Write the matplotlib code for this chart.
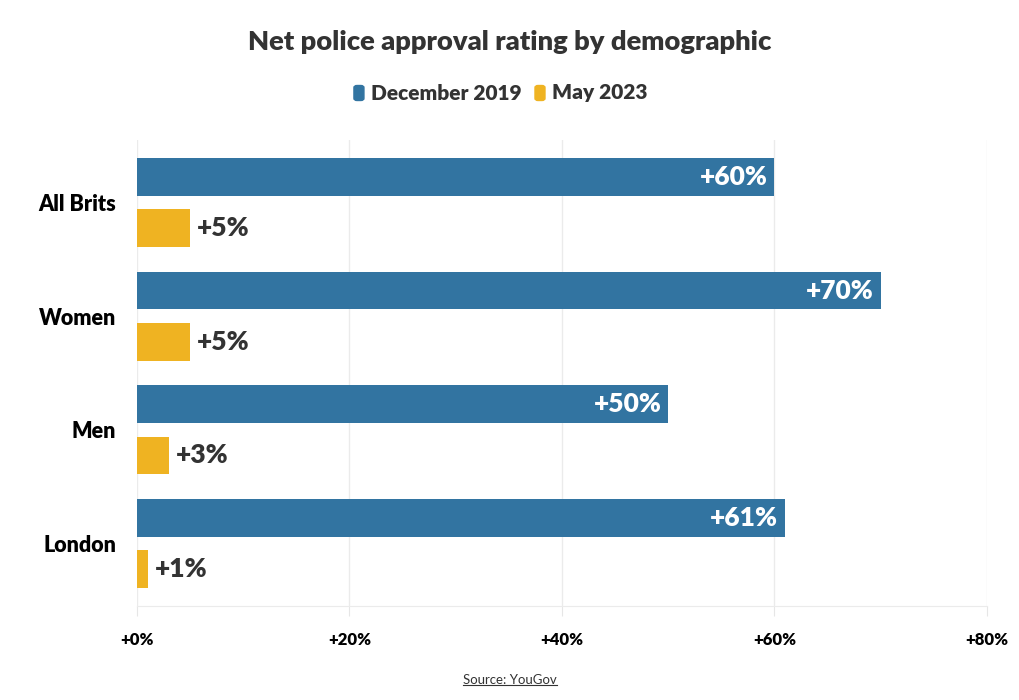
import matplotlib.pyplot as plt
import numpy as np
from matplotlib.patches import FancyBboxPatch

# data
groups = ["All Brits", "Women", "Men", "London"]
dec_2019 = [60, 70, 50, 61]
may_2023 = [5, 5, 3, 1]
x_ticks = [0, 20, 40, 60, 80]

blue = "#3274a1"
yellow = "#efb322"
dark = "#333333"

plt.rcParams["font.family"] = ["Lato", "DejaVu Sans"]
plt.rcParams["font.weight"] = "bold"

fig = plt.figure(figsize=(10.2, 7), dpi=100)
ax = fig.add_axes([0.1343, 0.1343, 0.8333, 0.6657])

y = np.arange(len(groups))
off = 0.224
h = 0.333
ax.barh(y - off, dec_2019, height=h, color=blue, zorder=3)
ax.barh(y + off, may_2023, height=h, color=yellow, zorder=3)

for yi, v in zip(y, dec_2019):
    ax.annotate(f"+{v}%", (v, yi - off), xytext=(-5, 0), textcoords="offset points",
                ha="right", va="center", color="white", fontsize=19, fontweight="heavy", zorder=4)
for yi, v in zip(y, may_2023):
    ax.annotate(f"+{v}%", (v, yi + off), xytext=(5, 0), textcoords="offset points",
                ha="left", va="center", color=dark, fontsize=19, fontweight="heavy", zorder=4)

ax.set_xlim(0, 80)
ax.set_ylim(3.545, -0.545)
ax.set_xticks(x_ticks)
ax.set_xticklabels([f"+{t}%" for t in x_ticks], fontsize=12, fontweight="heavy", color="black")
ax.set_yticks(y)
ax.set_yticklabels(groups, fontsize=15.5, fontweight="heavy", color="black")
ax.tick_params(axis="y", length=0, pad=15)
ax.tick_params(axis="x", length=7, color="#e6e6e6", pad=12)
ax.grid(axis="x", color="#ebebeb", linewidth=1, zorder=0)
for s in ["top", "right", "left"]:
    ax.spines[s].set_visible(False)
ax.spines["bottom"].set_color("#ebebeb")

fig.text(0.5, 0.94, "Net police approval rating by demographic", ha="center", va="center",
         fontsize=19.7, fontweight="heavy", color=dark)

# legend drawn by hand to match the rounded square markers
items = [("December 2019", blue), ("May 2023", yellow)]
ly = 1 - 93 / 700
starts = [0.3637, 0.5412]
for (lab, col), sx in zip(items, starts):
    fig.patches.append(FancyBboxPatch((sx - 0.0167, ly - 0.0107), 0.0098, 0.0214,
                                      boxstyle="round,pad=0,rounding_size=0.003",
                                      transform=fig.transFigure, color=col))
    fig.text(sx, ly, lab, ha="left", va="center", fontsize=15, fontweight="heavy", color=dark)

src = fig.text(0.5, 1 - 680 / 700, "Source: YouGov", ha="center", va="center",
               fontsize=9.5, fontweight="normal", color=dark)
fig.canvas.draw()
bb = src.get_window_extent().transformed(fig.transFigure.inverted())
fig.add_artist(plt.Line2D([bb.x0, bb.x1], [bb.y0 + 0.001, bb.y0 + 0.001],
                          transform=fig.transFigure, color=dark, linewidth=0.8))

fig.savefig("out.png", dpi=100)
